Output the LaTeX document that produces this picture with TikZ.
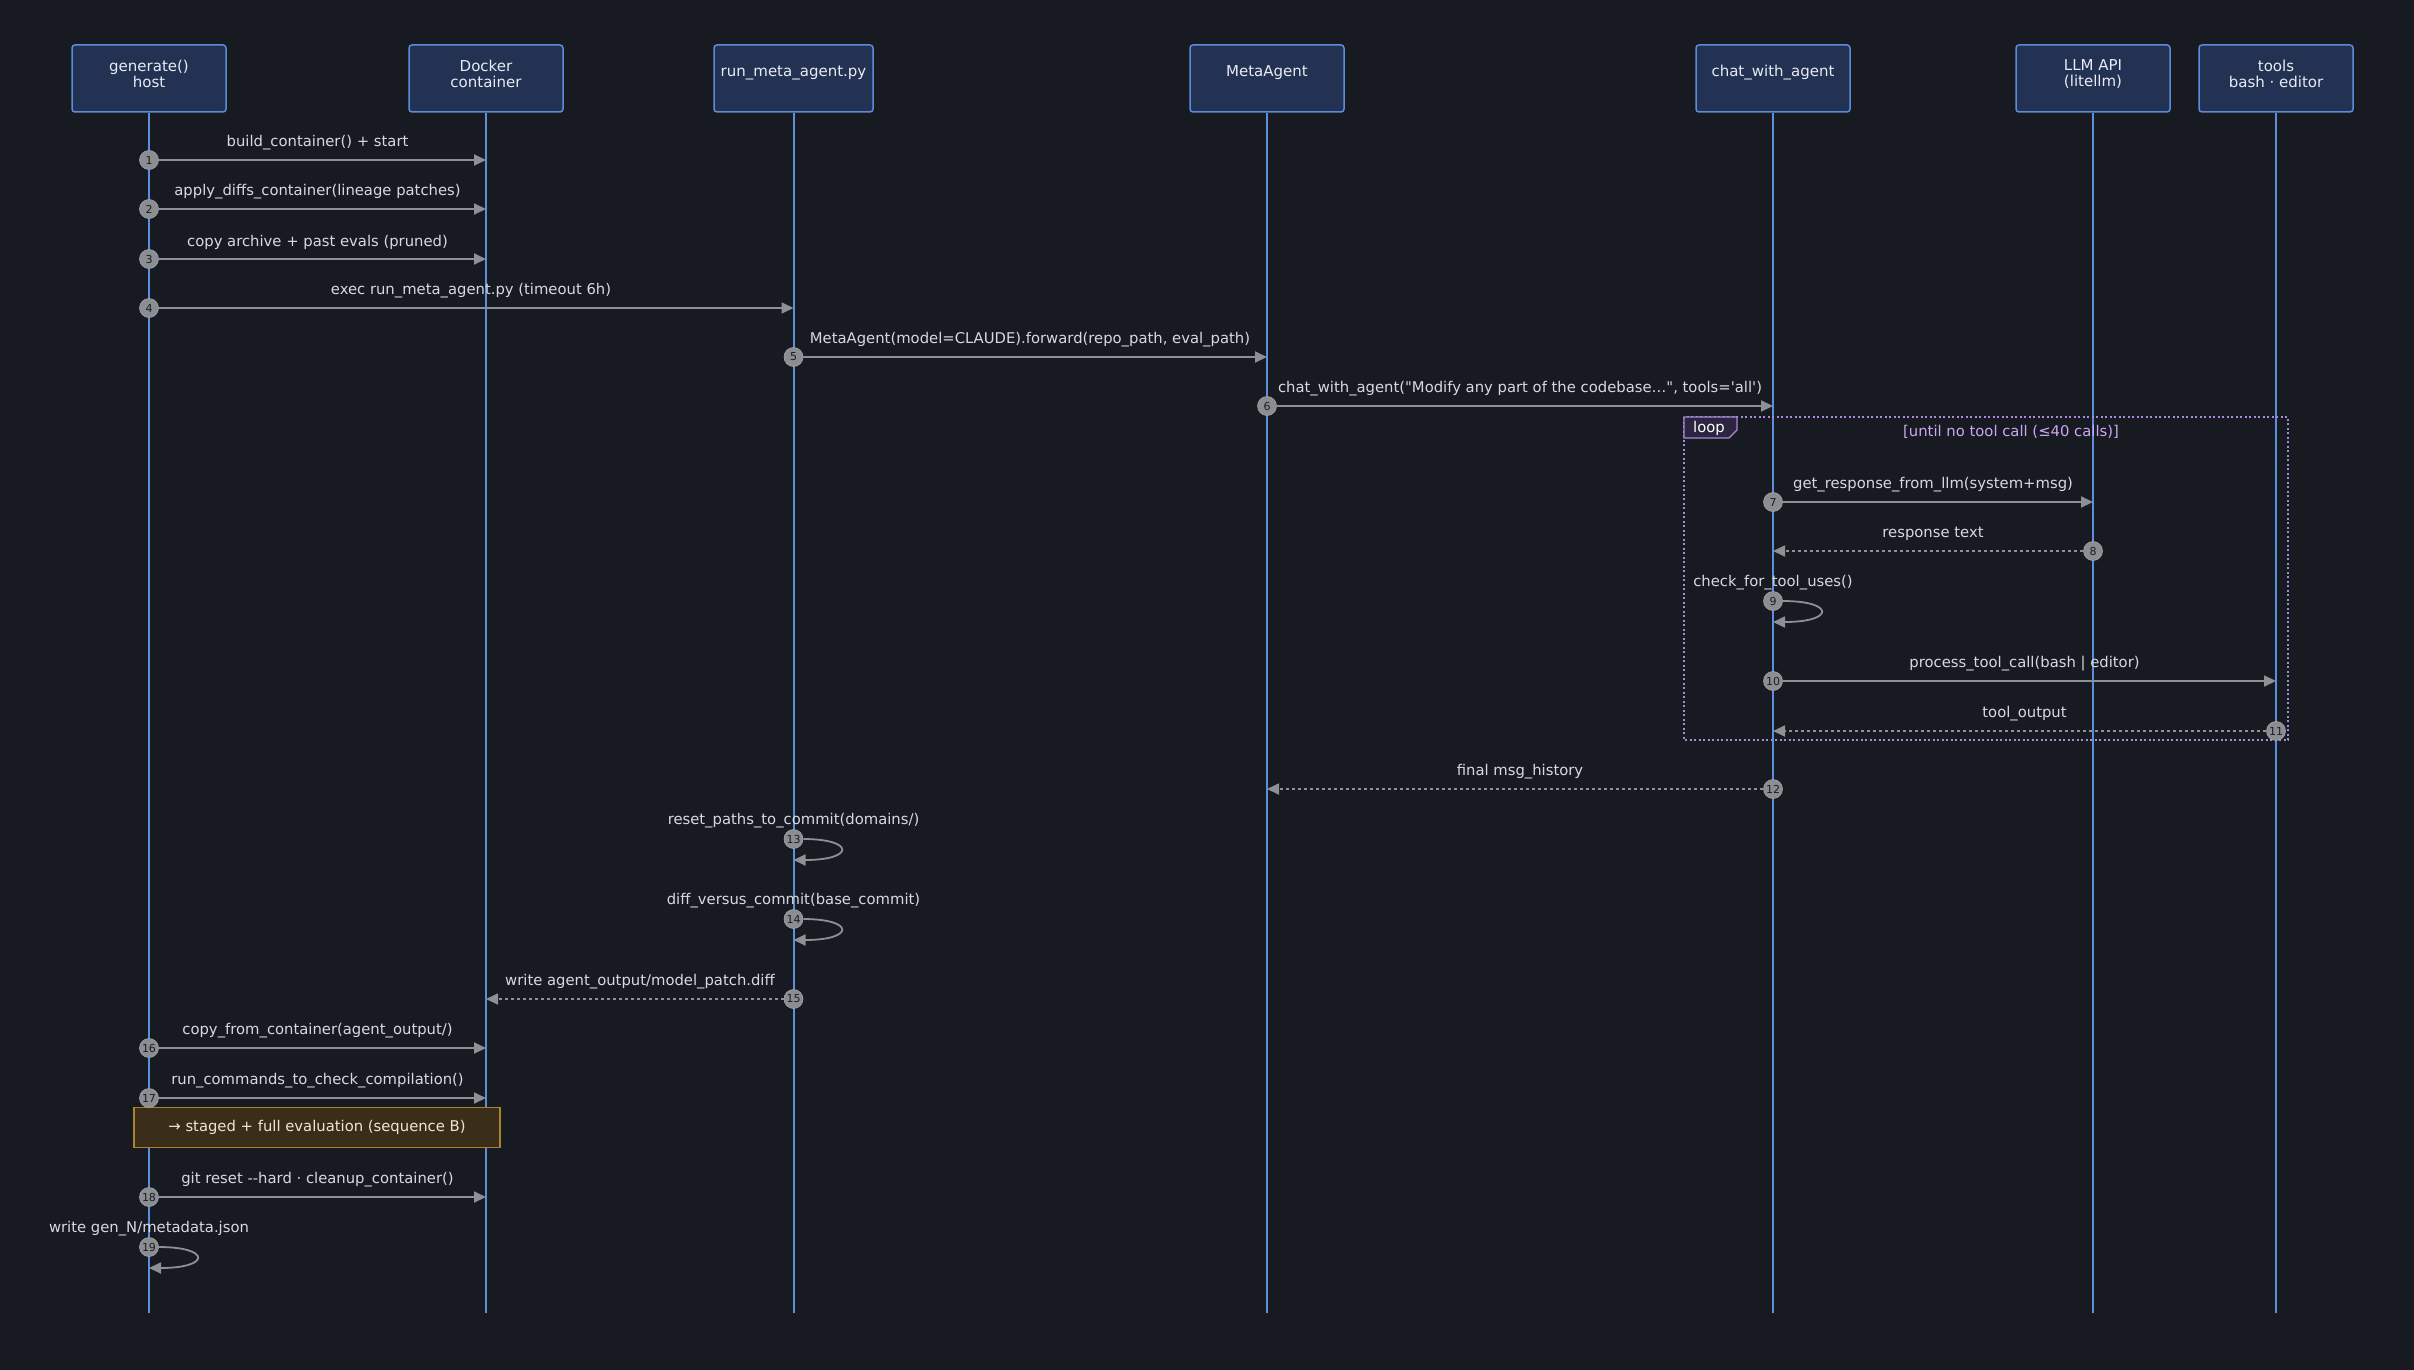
\documentclass[tikz,border=0pt]{standalone}
\usepackage{fontspec}
\newfontfamily\df{DejaVu Sans}
\usetikzlibrary{arrows.meta,calc}
\definecolor{bgc}{HTML}{181A21}
\definecolor{actf}{HTML}{233152}
\definecolor{actb}{HTML}{5B8CD8}
\definecolor{actt}{HTML}{E8ECF2}
\definecolor{lifec}{HTML}{5B8FDE}
\definecolor{arrc}{HTML}{8D9095}
\definecolor{lblc}{HTML}{D6DAE0}
\definecolor{numf}{HTML}{8A8D92}
\definecolor{numt}{HTML}{1A1C20}
\definecolor{notef}{HTML}{3A2E1A}
\definecolor{noteb}{HTML}{A8842F}
\definecolor{notet}{HTML}{EEE6D4}
\definecolor{loopc}{HTML}{A88BD8}
\definecolor{loopf}{HTML}{2C2541}
\definecolor{loopt}{HTML}{C9A7F2}
\begin{document}
\begin{tikzpicture}[x=1pt,y=-1pt,
 actor/.style={draw=actb, fill=actf, line width=1.5pt, rounded corners=3pt, minimum width=154pt, minimum height=67pt, inner sep=0pt},
 actortxt/.style={font=\df\fontsize{15}{16.5}\selectfont, text=actt, align=center, inner sep=0pt},
 life/.style={draw=lifec, line width=2pt},
 msg/.style={draw=arrc, line width=1.8pt, -{Triangle[length=12pt,width=11pt]}},
 ret/.style={msg, dash pattern=on 3pt off 3pt},
 lbl/.style={font=\df\fontsize{14.8}{17}\selectfont, text=lblc, inner sep=0pt},
 num/.style={circle, fill=numf, draw=numf!80!white, line width=0.6pt, minimum size=19pt, inner sep=0pt, text=numt, font=\df\fontsize{11}{11}\selectfont},
]
\fill[bgc] (0,0) rectangle (2414,1370);
\useasboundingbox (0,0) rectangle (2414,1370);

% actors
\node[actor] (a1) at (149,78.5) {};
\node[actor] (a2) at (486,78.5) {};
\node[actor, minimum width=159pt] (a3) at (793.5,78.5) {};
\node[actor] (a4) at (1267,78.5) {};
\node[actor] (a5) at (1773,78.5) {};
\node[actor] (a6) at (2093,78.5) {};
\node[actor] (a7) at (2276,78.5) {};
\node[actortxt] (t1) at (149,74) {generate()\\host};
\node[actortxt] (t2) at (486,74) {Docker\\container};
\node[actortxt] (t3) at (793.5,73) {run\_meta\_agent.py};
\node[actortxt] (t4) at (1267,73) {MetaAgent};
\node[actortxt] (t5) at (1773,73) {chat\_with\_agent};
\node[actortxt] (t6) at (2093,74) {LLM API\\(litellm)};
\node[actortxt] (t7) at (2276,74) {tools\\bash · editor};

% lifelines
\coordinate (e1) at (149,1313);
\coordinate (e2) at (486,1313);
\coordinate (e3) at (793.5,1313);
\coordinate (e4) at (1267,1313);
\coordinate (e5) at (1773,1313);
\coordinate (e6) at (2093,1313);
\coordinate (e7) at (2276,1313);
\foreach \i in {1,...,7} {\draw[life] (a\i) -- (e\i);}

% loop frame
\draw[loopc, line width=1.5pt, dash pattern=on 2pt off 2.5pt] (1684,417) rectangle (2288,740);
\draw[draw=loopc, fill=loopf, line width=1.2pt] (1684,417) -- (1737,417) -- (1737,430) -- (1729,438) -- (1684,438) -- cycle;
\node[lbl, text=white] (looplbl) at (1709,428) {loop};
\node[lbl, text=loopt] (looptitle) at (2011,432) {[until no tool call (≤40 calls)]};

% note
\node[draw=noteb, fill=notef, line width=1.5pt, minimum width=366pt, minimum height=40pt, inner sep=0pt,
      font=\df\fontsize{14.8}{17}\selectfont, text=notet] (note) at (317,1127.5) {→ staged + full evaluation (sequence B)};

% messages
% 1
\coordinate (m1) at (486,160);
\node[num] (n1) at (149,160) {1};
\draw[msg] (n1) -- (m1);
\node[lbl] (l1) at (317.5,143) {build\_container() + start};
% 2
\coordinate (m2) at (486,209);
\node[num] (n2) at (149,209) {2};
\draw[msg] (n2) -- (m2);
\node[lbl] (l2) at (317.5,192) {apply\_diffs\_container(lineage patches)};
% 3
\coordinate (m3) at (486,259);
\node[num] (n3) at (149,259) {3};
\draw[msg] (n3) -- (m3);
\node[lbl] (l3) at (317.5,242) {copy archive + past evals (pruned)};
% 4
\coordinate (m4) at (793.5,308);
\node[num] (n4) at (149,308) {4};
\draw[msg] (n4) -- (m4);
\node[lbl] (l4) at (471,291) {exec run\_meta\_agent.py (timeout 6h)};
% 5
\coordinate (m5) at (1267,357);
\node[num] (n5) at (793.5,357) {5};
\draw[msg] (n5) -- (m5);
\node[lbl] (l5) at (1030,340) {MetaAgent(model=CLAUDE).forward(repo\_path, eval\_path)};
% 6
\coordinate (m6) at (1773,406);
\node[num] (n6) at (1267,406) {6};
\draw[msg] (n6) -- (m6);
\node[lbl] (l6) at (1520,389) {chat\_with\_agent("Modify any part of the codebase…", tools='all')};
% 7
\coordinate (m7) at (2093,502);
\node[num] (n7) at (1773,502) {7};
\draw[msg] (n7) -- (m7);
\node[lbl] (l7) at (1933,485) {get\_response\_from\_llm(system+msg)};
% 8
\coordinate (m8) at (1773,551);
\node[num] (n8) at (2093,551) {8};
\draw[ret] (n8) -- (m8);
\node[lbl] (l8) at (1933,534) {response text};
% 9
\coordinate (m9) at (1773,622);
\node[num] (n9) at (1773,601) {9};
\draw[msg] (n9) .. controls (1835,601) and (1835,622) .. (m9);
\node[lbl] (l9) at (1773,583) {check\_for\_tool\_uses()};
% 10
\coordinate (m10) at (2276,681);
\node[num] (n10) at (1773,681) {10};
\draw[msg] (n10) -- (m10);
\node[lbl] (l10) at (2024.5,664) {process\_tool\_call(bash | editor)};
% 11
\coordinate (m11) at (1773,731);
\node[num] (n11) at (2276,731) {11};
\draw[ret] (n11) -- (m11);
\node[lbl] (l11) at (2024.5,714) {tool\_output};
% 12
\coordinate (m12) at (1267,789);
\node[num] (n12) at (1773,789) {12};
\draw[ret] (n12) -- (m12);
\node[lbl] (l12) at (1520,772) {final msg\_history};
% 13
\coordinate (m13) at (793.5,860);
\node[num] (n13) at (793.5,839) {13};
\draw[msg] (n13) .. controls (855,839) and (855,860) .. (m13);
\node[lbl] (l13) at (793.5,821) {reset\_paths\_to\_commit(domains/)};
% 14
\coordinate (m14) at (793.5,940);
\node[num] (n14) at (793.5,919) {14};
\draw[msg] (n14) .. controls (855,919) and (855,940) .. (m14);
\node[lbl] (l14) at (793.5,901) {diff\_versus\_commit(base\_commit)};
% 15
\coordinate (m15) at (486,999);
\node[num] (n15) at (793.5,999) {15};
\draw[ret] (n15) -- (m15);
\node[lbl] (l15) at (640,982) {write agent\_output/model\_patch.diff};
% 16
\coordinate (m16) at (486,1048);
\node[num] (n16) at (149,1048) {16};
\draw[msg] (n16) -- (m16);
\node[lbl] (l16) at (317.5,1031) {copy\_from\_container(agent\_output/)};
% 17
\coordinate (m17) at (486,1098);
\node[num] (n17) at (149,1098) {17};
\draw[msg] (n17) -- (m17);
\node[lbl] (l17) at (317.5,1081) {run\_commands\_to\_check\_compilation()};
% 18
\coordinate (m18) at (486,1197);
\node[num] (n18) at (149,1197) {18};
\draw[msg] (n18) -- (m18);
\node[lbl] (l18) at (317.5,1180) {git reset --hard · cleanup\_container()};
% 19
\coordinate (m19) at (149,1268);
\node[num] (n19) at (149,1247) {19};
\draw[msg] (n19) .. controls (211,1247) and (211,1268) .. (m19);
\node[lbl] (l19) at (149,1229) {write gen\_N/metadata.json};
\end{tikzpicture}
\end{document}
